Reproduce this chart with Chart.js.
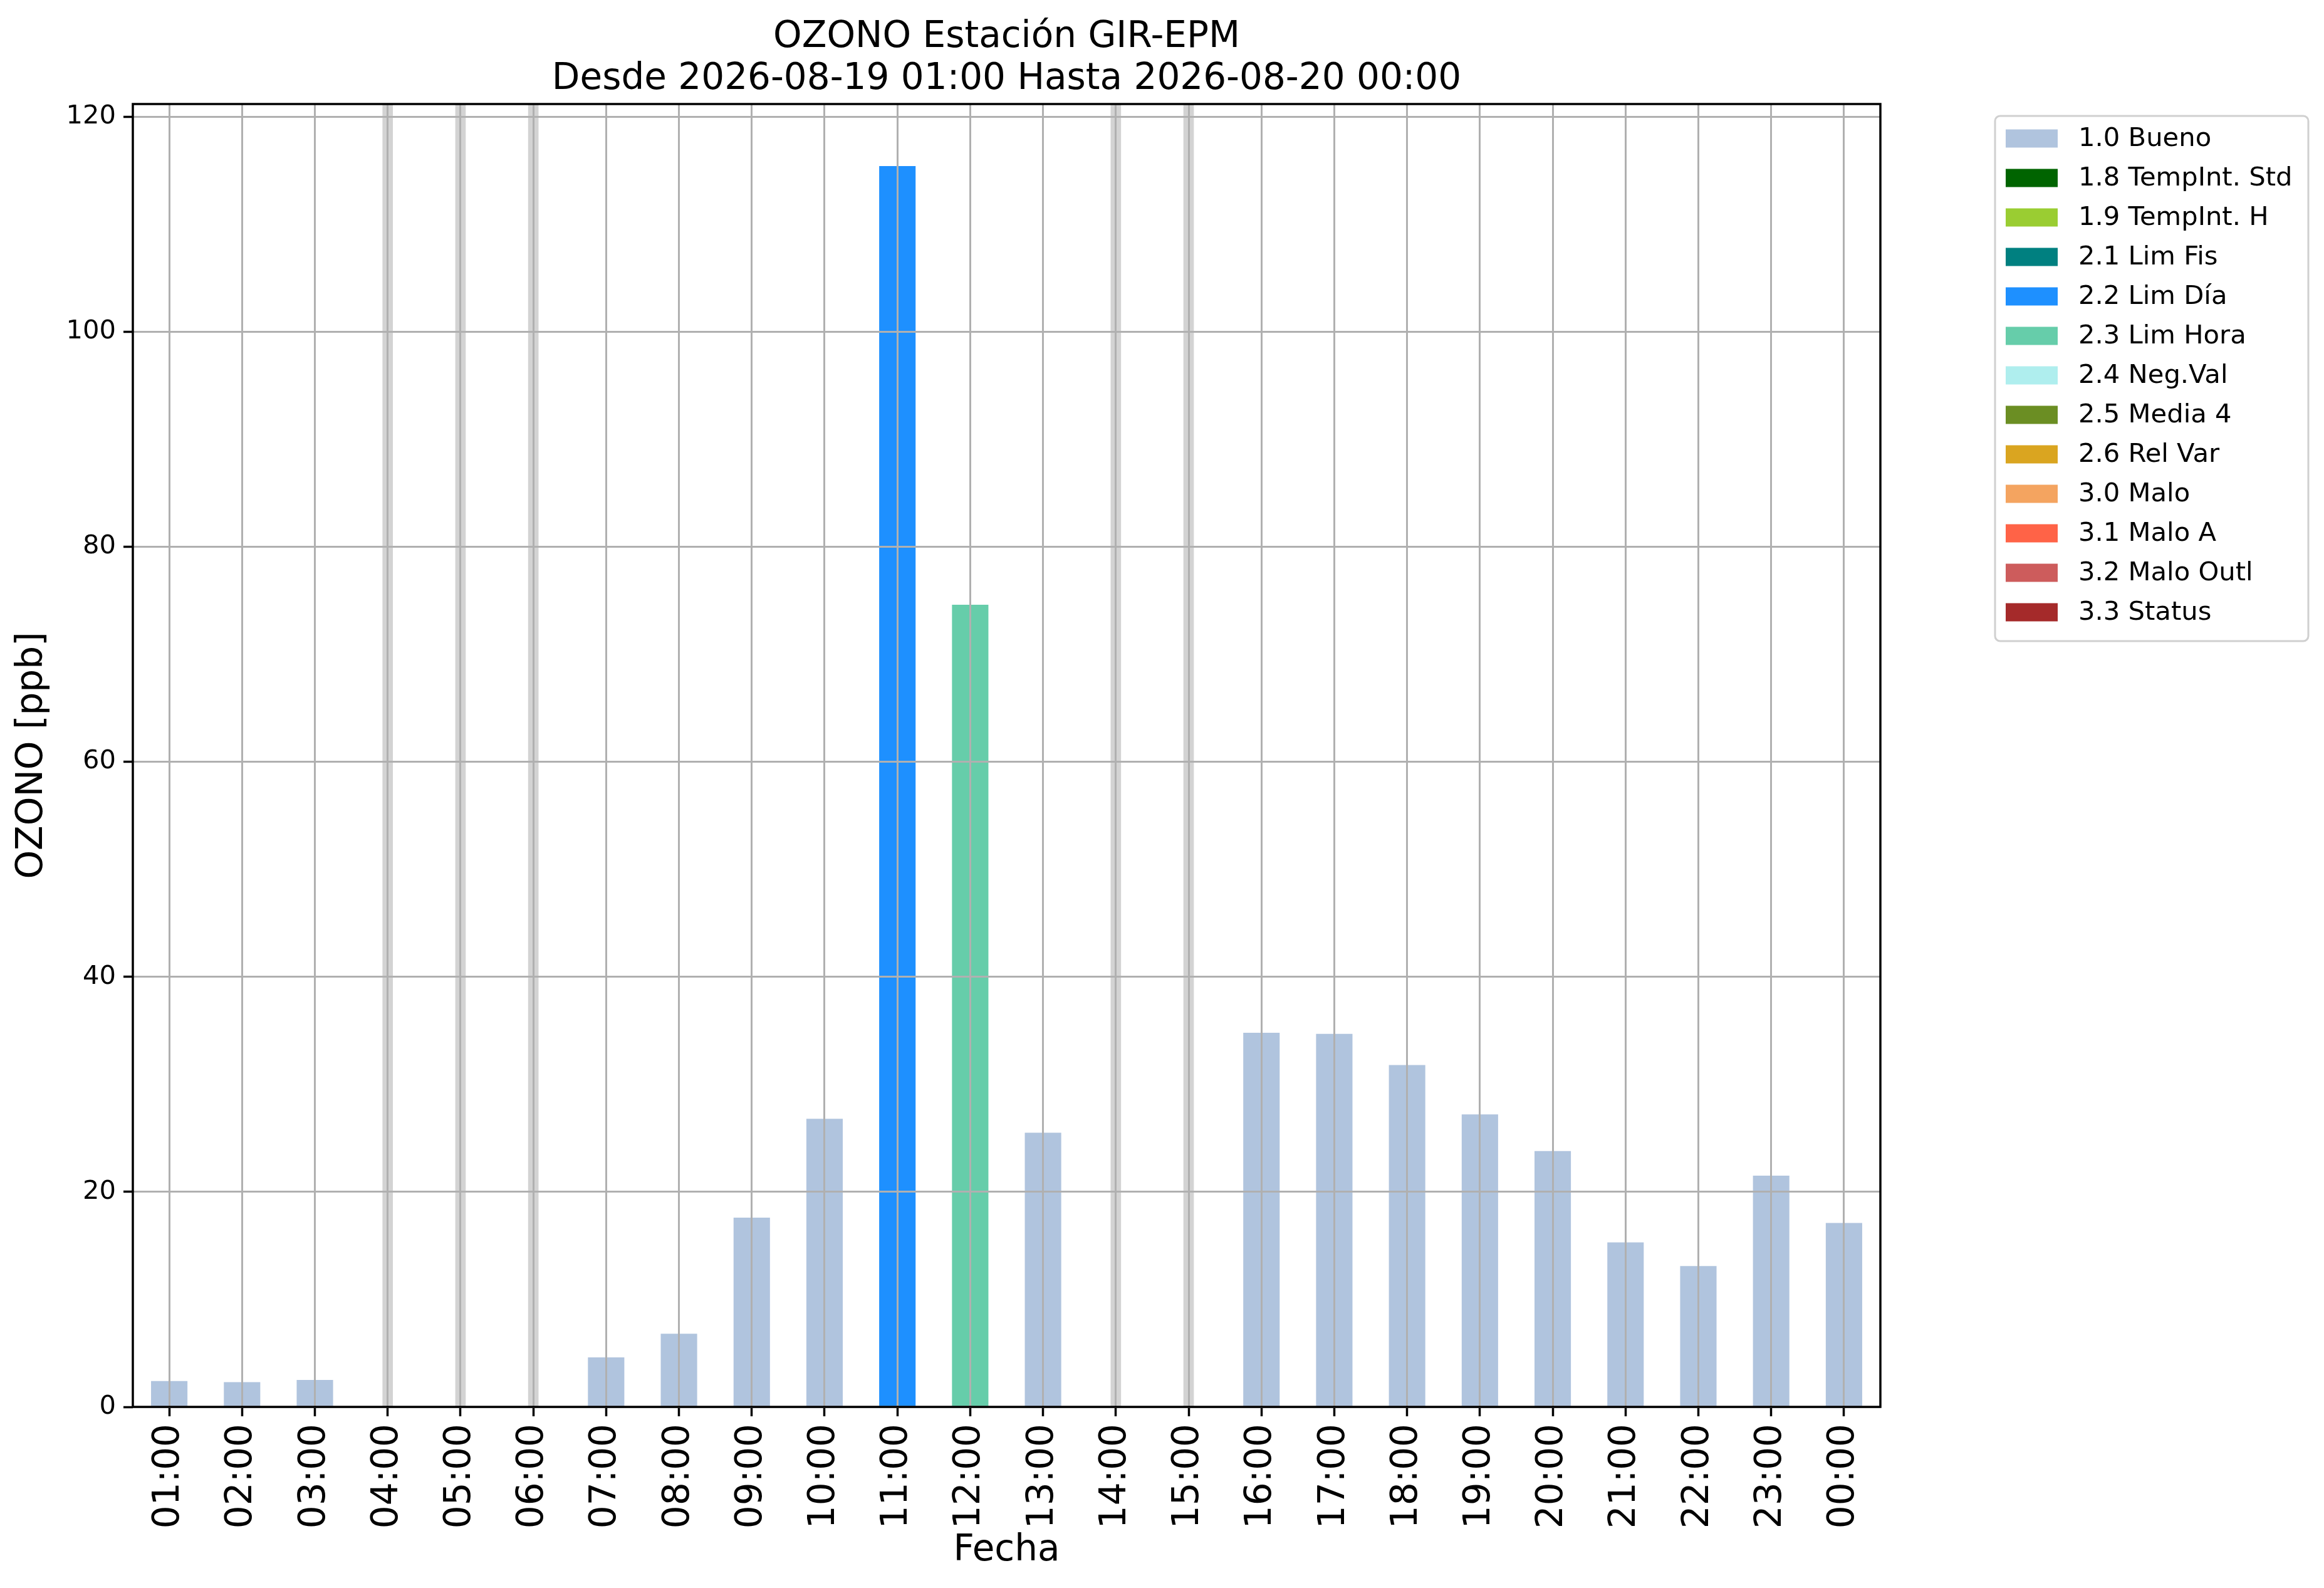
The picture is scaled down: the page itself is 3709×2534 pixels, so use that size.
<!DOCTYPE html>
<html>
<head>
<meta charset="utf-8">
<title>OZONO Estación GIR-EPM</title>
<script src="https://cdn.jsdelivr.net/npm/chart.js@4/dist/chart.umd.min.js"></script>
<style>
  html, body { margin: 0; padding: 0; background: #fff; }
  #wrap { width: 3709px; height: 2534px; }
</style>
</head>
<body>
<div id="wrap"><canvas id="ozoneChart" width="3709" height="2534"></canvas></div>
<script>
// --- data ---
const hours = ['01:00', '02:00', '03:00', '04:00', '05:00', '06:00', '07:00', '08:00',
  '09:00', '10:00', '11:00', '12:00', '13:00', '14:00', '15:00', '16:00', '17:00',
  '18:00', '19:00', '20:00', '21:00', '22:00', '23:00', '00:00'];
const ozone = [2.4, 2.3, 2.5, null, null, null, 4.6, 6.8, 17.6, 26.8, 115.4, 74.6, 25.5,
  null, null, 34.8, 34.7, 31.8, 27.2, 23.8, 15.3, 13.1, 21.5, 17.1];
const flags = ['1.0', '1.0', '1.0', null, null, null, '1.0', '1.0', '1.0', '1.0', '2.2', '2.3', '1.0',
  null, null, '1.0', '1.0', '1.0', '1.0', '1.0', '1.0', '1.0', '1.0', '1.0'];

const flagCodes = ['1.0', '1.8', '1.9', '2.1', '2.2', '2.3', '2.4', '2.5', '2.6', '3.0', '3.1', '3.2', '3.3'];
const flagNames = ['1.0 Bueno', '1.8 TempInt. Std', '1.9 TempInt. H', '2.1 Lim Fis', '2.2 Lim Día',
  '2.3 Lim Hora', '2.4 Neg.Val', '2.5 Media 4', '2.6 Rel Var', '3.0 Malo', '3.1 Malo A',
  '3.2 Malo Outl', '3.3 Status'];
const flagColors = ['#b0c4de', '#006400', '#9acd32', '#008080', '#1e90ff', '#66cdaa', '#afeeee',
  '#6b8e23', '#daa520', '#f4a460', '#ff6347', '#cd5c5c', '#a52a2a'];

const yTicks = [0, 20, 40, 60, 80, 100, 120];
const titleLines = ['OZONO Estación GIR-EPM', 'Desde 2026-08-19 01:00 Hasta 2026-08-20 00:00'];

const FONT = '"DejaVu Sans", "Liberation Sans", sans-serif';
Chart.defaults.font.family = FONT;
Chart.defaults.color = '#000';

// matplotlib-like autoscale margin on top
const yMax = Math.max(...ozone.filter(v => v !== null)) * 1.05;

const flagSets = flagCodes.map((code, k) => ({
  label: flagNames[k],
  data: ozone.map((v, i) => (flags[i] === code ? v : null)),
  backgroundColor: flagColors[k],
  borderWidth: 0,
  barPercentage: 0.5,
  categoryPercentage: 1.0
}));

// hours without data are marked with a thin grey band
const gapSet = {
  label: 'sin dato',
  isGap: true,
  data: ozone.map(v => (v === null ? yMax : null)),
  backgroundColor: '#d3d3d3',
  borderWidth: 0,
  barThickness: 16
};

const overlay = {
  id: 'overlay',
  afterDraw(chart) {
    const { ctx, chartArea: a } = chart;
    ctx.save();

    // axes frame
    ctx.strokeStyle = '#000';
    ctx.lineWidth = 3.5;
    ctx.strokeRect(a.left, a.top, a.right - a.left, a.bottom - a.top);

    // two-line title centred over the axes
    ctx.fillStyle = '#000';
    ctx.font = '58px ' + FONT;
    ctx.textAlign = 'center';
    ctx.textBaseline = 'alphabetic';
    const cx = (a.left + a.right) / 2;
    titleLines.forEach((t, i) => ctx.fillText(t, cx, a.top - 91 + i * 67));

    // legend box to the right of the axes
    const items = chart.data.datasets.filter(d => !d.isGap);
    const bx = a.right + 183, by = a.top + 19, bw = 500, rowH = 63;
    const bh = 36 + items.length * rowH - 17;
    ctx.strokeStyle = '#d0d0d0';
    ctx.lineWidth = 3;
    ctx.beginPath();
    ctx.roundRect(bx, by, bw, bh, 8);
    ctx.fillStyle = 'rgba(255,255,255,0.8)';
    ctx.fill();
    ctx.stroke();

    ctx.font = '41.7px ' + FONT;
    ctx.textAlign = 'left';
    ctx.textBaseline = 'middle';
    items.forEach((d, i) => {
      const cy = by + 36 + i * rowH;
      ctx.fillStyle = d.backgroundColor;
      ctx.fillRect(bx + 17, cy - 14.5, 83, 29);
      ctx.fillStyle = '#000';
      ctx.fillText(d.label, bx + 133, cy + 1);
    });
    ctx.restore();
  }
};

new Chart(document.getElementById('ozoneChart'), {
  type: 'bar',
  data: {
    labels: hours,
    datasets: [gapSet, ...flagSets]
  },
  options: {
    responsive: false,
    devicePixelRatio: 1,
    animation: false,
    layout: { padding: { left: 0, top: 166, right: 708, bottom: 0 } },
    plugins: {
      legend: { display: false },
      title: { display: false },
      tooltip: { enabled: false }
    },
    scales: {
      x: {
        stacked: true,
        offset: true,
        grid: {
          z: 1,
          offset: false,
          color: '#b0b0b0',
          lineWidth: 3,
          drawTicks: true,
          tickLength: 15,
          tickColor: '#000',
          tickWidth: 3.5
        },
        border: { display: false },
        ticks: {
          autoSkip: false,
          maxRotation: 90,
          minRotation: 90,
          padding: 12,
          font: { size: 58 }
        },
        title: {
          display: true,
          text: 'Fecha',
          font: { size: 58 },
          padding: { top: 0, bottom: 24 }
        },
        afterFit(scale) { scale.height = 289; }
      },
      y: {
        stacked: true,
        min: 0,
        max: yMax,
        afterBuildTicks(scale) { scale.ticks = yTicks.map(v => ({ value: v })); },
        grid: {
          z: 1,
          color: '#b0b0b0',
          lineWidth: 3,
          drawTicks: true,
          tickLength: 15,
          tickColor: '#000',
          tickWidth: 3.5
        },
        border: { display: false },
        ticks: {
          padding: 12,
          font: { size: 41.7 }
        },
        title: {
          display: true,
          text: 'OZONO [ppb]',
          font: { size: 58 },
          padding: { top: 17, bottom: 0 }
        },
        afterFit(scale) { scale.width = 212; }
      }
    }
  },
  plugins: [overlay]
});
</script>
</body>
</html>
